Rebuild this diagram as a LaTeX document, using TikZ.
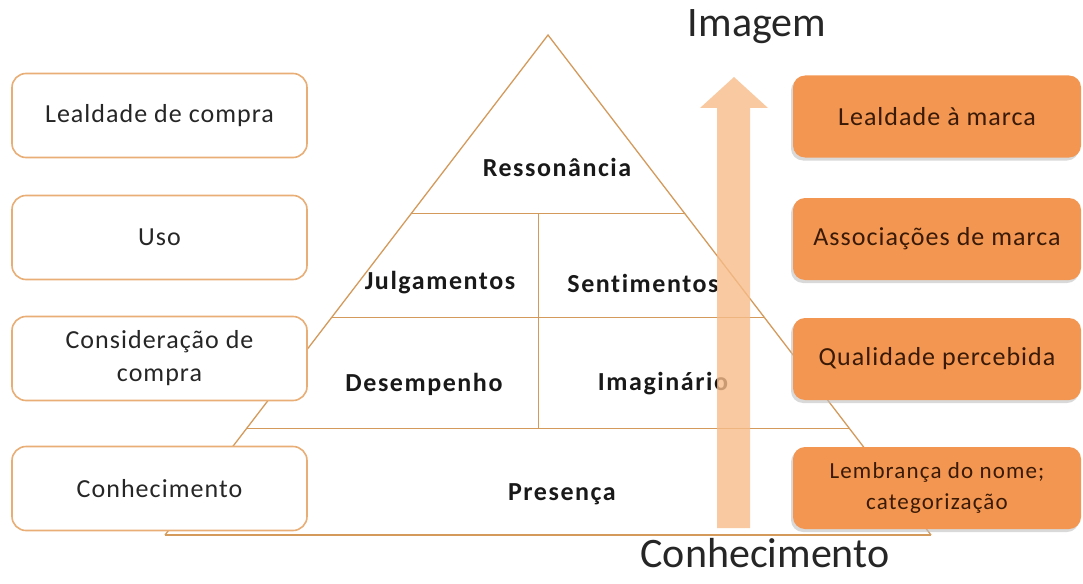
\documentclass[tikz,border=0pt]{standalone}
\usepackage{fontspec}
\setmainfont{Carlito}
\newfontfamily\boxfont[LetterSpace=4,Ligatures=NoCommon]{Carlito}
\newfontfamily\lemfont[LetterSpace=5,Ligatures=NoCommon]{Carlito}
\newfontfamily\pyrfont[LetterSpace=6,Ligatures=NoCommon]{Carlito}
\usetikzlibrary{calc,shadows}
\definecolor{pyr}{HTML}{D39A5C}
\definecolor{lborder}{HTML}{E8AE76}
\definecolor{rfill}{HTML}{F29652}
\definecolor{rtext}{HTML}{3A1A05}
\definecolor{arrowc}{HTML}{F7BC89}
\begin{document}
\begin{tikzpicture}[x=1pt,y=-1pt,
  lbox/.style={draw=lborder,line width=1.6pt,fill=white,rounded corners=14pt,
    minimum width=295pt,minimum height=84pt,align=center,font=\boxfont\fontsize{26}{33}\selectfont,text=black!85},
  rbox/.style={fill=rfill,rounded corners=12pt,minimum width=288pt,minimum height=82pt,
    align=center,font=\boxfont\fontsize{26}{33}\selectfont,text=rtext,
    drop shadow={shadow xshift=-2pt,shadow yshift=-3pt,fill=black!25,opacity=.6}},
  plabel/.style={font=\pyrfont\bfseries\fontsize{26}{31}\selectfont,text=black!90},
  pline/.style={draw=pyr,line width=1.3pt},
  big/.style={font=\fontsize{42}{50}\selectfont,text=black!85}]
\useasboundingbox (0,0) rectangle (1083,583);
% pyramid
\coordinate (A) at (548,35);
\coordinate (BL) at (165,535);
\coordinate (BR) at (931,535);
\draw[pline] (BL) -- (A) -- (BR);
\draw[pline,line width=2pt] (BL) -- (BR);
\coordinate (l1) at ($(A)!0.356!(BL)$); \coordinate (r1) at ($(A)!0.356!(BR)$);
\coordinate (l2) at ($(A)!0.564!(BL)$); \coordinate (r2) at ($(A)!0.564!(BR)$);
\coordinate (l3) at ($(A)!0.786!(BL)$); \coordinate (r3) at ($(A)!0.786!(BR)$);
\draw[pline,line width=1pt] (l1) -- (r1);
\draw[pline,line width=1pt] (l2) -- (r2);
\draw[pline,line width=1pt] (l3) -- (r3);
\coordinate (vt) at (538,213); \coordinate (vb) at (538,428);
\draw[pline,line width=1pt] (vt) -- (vb);
% labels
\node[plabel] (res) at (557,167) {Ressonância};
\node[plabel] (jul) at (440,283) {Julgamentos};
\node[plabel] (sen) at (643,283) {Sentimentos};
\node[plabel] (des) at (424,384) {Desempenho};
\node[plabel] (ima) at (663,384) {Imaginário};
\node[plabel] (pre) at (562,494) {Presença};
% arrow
\fill[arrowc,opacity=.8] (717,528) -- (717,108) -- (700,108) -- (734,77) -- (768,108) -- (750,108) -- (750,528) -- cycle;
% left boxes
\node[lbox] (lb1) at (159.5,115.5) {Lealdade de compra};
\node[lbox] (lb2) at (159.5,237.5) {Uso};
\node[lbox] (lb3) at (159.5,358.5) {Consideração de\\compra};
\node[lbox] (lb4) at (159.5,488.5) {Conhecimento};
% right boxes
\node[rbox] (rb1) at (937,116.5) {Lealdade à marca};
\node[rbox] (rb2) at (937,239) {Associações de marca};
\node[rbox] (rb3) at (937,359) {Qualidade percebida};
\node[rbox,font=\lemfont\fontsize{23}{31}\selectfont] (rb4) at (937,488) {Lembrança do nome;\\categorização};
% titles
\node[big] (img) at (757,27) {Imagem};
\node[big] (con) at (765,553) {Conhecimento};
\end{tikzpicture}
\end{document}
